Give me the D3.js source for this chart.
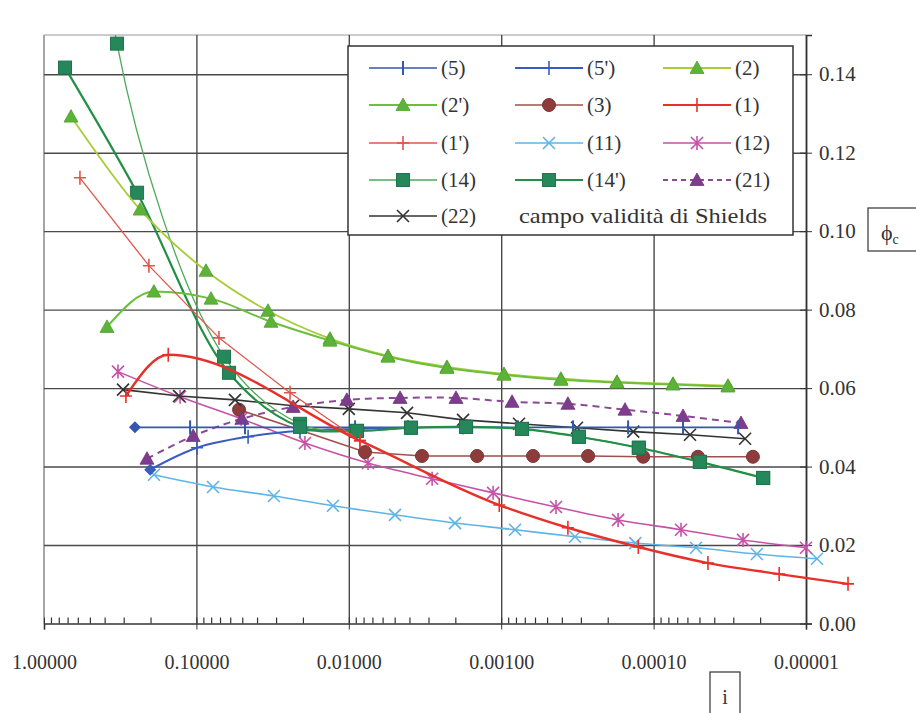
<!DOCTYPE html>
<html>
<head>
<meta charset="utf-8">
<script src="https://cdn.jsdelivr.net/npm/d3@7/dist/d3.min.js"></script>
<style>
  body { margin: 0; background: #fff; }
  svg text { font-family: "Liberation Serif", "Times New Roman", serif; fill: #333; }
</style>
</head>
<body>
<svg id="chart" width="916" height="713"></svg>
<script>
// x = slope i (log axis, reversed), y = phi_c
const xTicks = [1, 0.1, 0.01, 0.001, 0.0001, 0.00001];
const yTicks = [0, 0.02, 0.04, 0.06, 0.08, 0.10, 0.12, 0.14];

const i5 = [0.253, 0.110, 0.0480, 0.0209, 0.0091, 0.00409, 0.00178, 0.000776, 0.000338, 0.000147, 0.0000641, 0.0000279];
const phi5 = [0.050, 0.050, 0.050, 0.050, 0.050, 0.050, 0.050, 0.050, 0.050, 0.050, 0.050, 0.050];

const i5b = [0.201, 0.0991, 0.0458, 0.0209, 0.0091, 0.00409];
const phi5b = [0.0392, 0.0448, 0.0476, 0.0491, 0.0496, 0.0499];

const i2 = [0.665, 0.234, 0.0865, 0.0339, 0.0133, 0.00553, 0.00227, 0.000959, 0.000406, 0.000174, 0.0000746, 0.0000325];
const phi2 = [0.1292, 0.1055, 0.0899, 0.0797, 0.0726, 0.0682, 0.0654, 0.0636, 0.0624, 0.0616, 0.0611, 0.0606];

const i2b = [0.386, 0.190, 0.0802, 0.0324, 0.0133, 0.00553, 0.00227, 0.000959, 0.000406, 0.000174, 0.0000746, 0.0000325];
const phi2b = [0.0756, 0.0846, 0.0828, 0.0769, 0.0721, 0.0680, 0.0651, 0.0634, 0.0621, 0.0614, 0.0609, 0.0604];

const i3 = [0.0525, 0.00783, 0.00331, 0.00144, 0.000618, 0.000269, 0.000117, 0.0000512, 0.0000223];
const phi3 = [0.0545, 0.0437, 0.0427, 0.0427, 0.0427, 0.0427, 0.0425, 0.0425, 0.0425];

const i1 = [0.290, 0.153, 0.00845, 0.00103, 0.000365, 0.000126, 0.0000440, 0.0000150, 0.0000053];
const phi1 = [0.0580, 0.0685, 0.0466, 0.0302, 0.0244, 0.0195, 0.0154, 0.0126, 0.0101];

const i1b = [0.581, 0.205, 0.0711, 0.0243, 0.00845];
const phi1b = [0.1136, 0.0912, 0.0728, 0.0588, 0.0466];

const i11 = [0.190, 0.0778, 0.0310, 0.0127, 0.00498, 0.00201, 0.000811, 0.000328, 0.000132, 0.0000527, 0.0000210, 0.00000847];
const phi11 = [0.0379, 0.0348, 0.0325, 0.0300, 0.0277, 0.0256, 0.0239, 0.0221, 0.0205, 0.0193, 0.0177, 0.0165];

const i12 = [0.327, 0.128, 0.0509, 0.0194, 0.00748, 0.00284, 0.00113, 0.000437, 0.000171, 0.0000661, 0.0000259, 0.00001];
const phi12 = [0.0642, 0.0578, 0.0522, 0.0460, 0.0409, 0.0369, 0.0333, 0.0297, 0.0264, 0.0239, 0.0213, 0.0193];

const i14 = [0.430, 0.332, 0.0659, 0.0209, 0.00883, 0.00391, 0.00170, 0.000731, 0.000309, 0.000125, 0.0000497, 0.0000191];
const phi14 = [0.2356, 0.1478, 0.0680, 0.0509, 0.0491, 0.0499, 0.0501, 0.0496, 0.0476, 0.0448, 0.0412, 0.0371];

const i14b = [0.728, 0.245, 0.0611, 0.0209, 0.00883, 0.00391, 0.00170, 0.000731, 0.000309, 0.000125, 0.0000497, 0.0000191];
const phi14b = [0.1417, 0.1098, 0.0639, 0.0501, 0.0491, 0.0499, 0.0501, 0.0496, 0.0476, 0.0448, 0.0412, 0.0371];

const i21 = [0.211, 0.105, 0.0502, 0.0232, 0.0103, 0.00461, 0.00198, 0.000849, 0.000365, 0.000154, 0.0000641, 0.0000267];
const phi21 = [0.0420, 0.0478, 0.0522, 0.0552, 0.0570, 0.0575, 0.0575, 0.0565, 0.0560, 0.0545, 0.0529, 0.0511];

const i22 = [0.303, 0.130, 0.0558, 0.0232, 0.0100, 0.00415, 0.00178, 0.000764, 0.000318, 0.000136, 0.0000577, 0.0000251];
const phi22 = [0.0596, 0.0580, 0.0570, 0.0555, 0.0547, 0.0537, 0.0519, 0.0509, 0.0499, 0.0489, 0.0481, 0.0471];

// series styles (draw order = list order)
let series = [
  {name: "(11)", xs: i11, ys: phi11, color: "#5fb4e6", width: 1.6, mark: "x", curve: "smooth"},
  {name: "(12)", xs: i12, ys: phi12, color: "#c652a8", width: 1.6, mark: "star", curve: "smooth"},
  {name: "(3)", xs: i3, ys: phi3, color: "#a0504a", fill: "#8e3b3b", width: 1.6, mark: "circle", curve: "linear"},
  {name: "(22)", xs: i22, ys: phi22, color: "#333333", width: 1.6, mark: "x", curve: "linear"},
  {name: "(21)", xs: i21, ys: phi21, color: "#8a4a96", fill: "#7e3c8c", width: 2, dash: "7,5", mark: "tri", curve: "smooth"},
  {name: "(5)", xs: i5, ys: phi5, color: "#3556b0", width: 1.6, mark: "bar", first: "diamond", curve: "linear"},
  {name: "(5')", xs: i5b, ys: phi5b, color: "#3a5cc0", width: 2, mark: "plus", first: "diamond", curve: "smooth"},
  {name: "(14)", xs: i14, ys: phi14, color: "#4caa58", fill: "#25875a", width: 1.3, mark: "square", curve: "smooth"},
  {name: "(14')", xs: i14b, ys: phi14b, color: "#238f45", fill: "#25875a", width: 2.2, mark: "square", curve: "smooth"},
  {name: "(2)", xs: i2, ys: phi2, color: "#a6cc38", fill: "#5cb337", width: 1.8, mark: "tri", curve: "smooth"},
  {name: "(2')", xs: i2b, ys: phi2b, color: "#6cbf3c", fill: "#5cb337", width: 2, mark: "tri", curve: "mono"},
  {name: "(1')", xs: i1b, ys: phi1b, color: "#e0554c", width: 1.3, mark: "plus", curve: "linear"},
  {name: "(1)", xs: i1, ys: phi1, color: "#e8302a", width: 2.4, mark: "plus", curve: "mono"}
];

let legendOrder = ["(5)", "(5')", "(2)", "(2')", "(3)", "(1)", "(1')", "(11)", "(12)", "(14)", "(14')", "(21)", "(22)"];

let svg = d3.select("#chart");
let pLeft = 44, pRight = 806, pTop = 35, pBottom = 623.5;

let x = d3.scaleLog().domain([1, 0.00001]).range([pLeft, pRight]);
let y = d3.scaleLinear().domain([0, 0.15]).range([pBottom, pTop]);

// frame
svg.append("line").attr("x1", pLeft).attr("x2", pLeft).attr("y1", pTop).attr("y2", pBottom)
  .attr("stroke", "#888").attr("stroke-width", 1.5);
svg.append("line").attr("x1", pLeft).attr("x2", pRight).attr("y1", pTop).attr("y2", pTop)
  .attr("stroke", "#999").attr("stroke-width", 1.2);

// horizontal grid
svg.append("g")
  .attr("transform", "translate(" + pLeft + ",0)")
  .call(d3.axisLeft(y).tickValues(yTicks.slice(1)).tickSize(-(pRight - pLeft)).tickFormat(""))
  .call(g => g.select(".domain").remove())
  .call(g => g.selectAll(".tick line").attr("stroke", "#4a4a4a").attr("stroke-width", 1.4));

// vertical grid
svg.append("g")
  .attr("transform", "translate(0," + pBottom + ")")
  .call(d3.axisBottom(x).tickValues(xTicks.slice(1)).tickSize(-(pBottom - pTop)).tickFormat(""))
  .call(g => g.select(".domain").remove())
  .call(g => g.selectAll(".tick line").attr("stroke", "#4a4a4a").attr("stroke-width", 1.4));

// minor log ticks on the bottom axis
let minors = [];
for (let e = 0; e > -5; e--)
  for (let m = 2; m < 10; m++) minors.push(m * Math.pow(10, e - 1));
svg.append("g")
  .attr("transform", "translate(0," + pBottom + ")")
  .call(d3.axisBottom(x).tickValues(minors).tickSize(-6).tickFormat(""))
  .call(g => g.select(".domain").remove())
  .call(g => g.selectAll(".tick line").attr("stroke", "#333").attr("stroke-width", 1.2));

// bottom axis
svg.append("g")
  .attr("transform", "translate(0," + pBottom + ")")
  .call(d3.axisBottom(x).tickValues(xTicks).tickSize(6).tickPadding(25).tickFormat(d3.format(".5f")))
  .call(g => g.select(".domain").attr("stroke", "#333").attr("stroke-width", 1.6))
  .call(g => g.selectAll(".tick line").attr("stroke", "#333").attr("y1", -6))
  .call(g => g.selectAll(".tick text").attr("font-size", 20).attr("fill", "#333"));

// right axis
svg.append("g")
  .attr("transform", "translate(" + pRight + ",0)")
  .call(d3.axisRight(y).tickValues(yTicks).tickSize(6).tickPadding(7).tickFormat(d3.format(".2f")))
  .call(g => g.select(".domain").attr("stroke", "#333").attr("stroke-width", 1.6))
  .call(g => g.selectAll(".tick line").attr("stroke", "#333").attr("x1", -6))
  .call(g => g.selectAll(".tick text").attr("font-size", 21).attr("fill", "#333"));

svg.append("clipPath").attr("id", "clip")
  .append("rect").attr("x", 0).attr("y", pTop).attr("width", 916).attr("height", 700);

function drawMarker(g, type, s) {
  let col = s.color, fill = s.fill || s.color;
  if (type == "square") {
    g.append("rect").attr("x", -6.5).attr("y", -6.5).attr("width", 13).attr("height", 13)
      .attr("fill", fill).attr("stroke", d3.color(fill).darker(0.4)).attr("stroke-width", 1);
  } else if (type == "tri") {
    g.append("path").attr("d", "M0,-7L7,5.5L-7,5.5Z").attr("fill", fill)
      .attr("stroke", d3.color(fill).darker(0.3)).attr("stroke-width", 0.8);
  } else if (type == "circle") {
    g.append("circle").attr("r", 6.5).attr("fill", fill).attr("stroke", d3.color(fill).darker(0.4));
  } else if (type == "diamond") {
    g.append("path").attr("d", "M0,-6L6,0L0,6L-6,0Z").attr("fill", col);
  } else {
    let d = {
      plus: "M-6,0H6M0,-7V7",
      bar: "M0,-7V7",
      x: "M-6,-6L6,6M-6,6L6,-6",
      star: "M-6,-6L6,6M-6,6L6,-6M0,-7V7"
    }[type];
    g.append("path").attr("d", d).attr("fill", "none").attr("stroke", col)
      .attr("stroke-width", type == "bar" ? 2 : 1.6);
  }
}

let curves = {
  smooth: d3.curveCatmullRom.alpha(0.5),
  mono: d3.curveMonotoneX,
  linear: d3.curveLinear
};

let plot = svg.append("g").attr("clip-path", "url(#clip)");

series.forEach(function(s) {
  let pts = s.xs.map(function(v, k) { return [v, s.ys[k]]; });
  let line = d3.line()
    .x(function(d) { return x(d[0]); })
    .y(function(d) { return y(d[1]); })
    .curve(curves[s.curve]);
  plot.append("path")
    .attr("d", line(pts))
    .attr("fill", "none")
    .attr("stroke", s.color)
    .attr("stroke-width", s.width)
    .attr("stroke-dasharray", s.dash || null);
  pts.forEach(function(p, k) {
    let g = plot.append("g").attr("transform", "translate(" + x(p[0]) + "," + y(p[1]) + ")");
    drawMarker(g, (k == 0 && s.first) ? s.first : s.mark, s);
  });
});

// legend
let lg = svg.append("g");
lg.append("rect").attr("x", 348).attr("y", 46).attr("width", 445).attr("height", 189)
  .attr("fill", "#fff").attr("stroke", "#333").attr("stroke-width", 1.5);
let colX = [369, 515, 663];
let rowY = [68, 105, 143, 180, 216];
legendOrder.forEach(function(name, k) {
  let s = series.find(function(d) { return d.name == name; });
  let cx = colX[k % 3], cy = rowY[Math.floor(k / 3)];
  lg.append("line").attr("x1", cx).attr("x2", cx + 68).attr("y1", cy).attr("y2", cy)
    .attr("stroke", s.color).attr("stroke-width", Math.min(s.width, 2))
    .attr("stroke-dasharray", s.dash ? "5,4" : null);
  drawMarker(lg.append("g").attr("transform", "translate(" + (cx + 34) + "," + cy + ")"), s.mark, s);
  lg.append("text").attr("x", cx + 72).attr("y", cy + 7).attr("font-size", 21).text(name);
});
lg.append("text").attr("x", 519).attr("y", rowY[4] + 7).attr("font-size", 21)
  .attr("textLength", 248).attr("lengthAdjust", "spacingAndGlyphs").text("campo validità di Shields");

// axis titles in boxes
svg.append("rect").attr("x", 868).attr("y", 208).attr("width", 60).attr("height", 43)
  .attr("fill", "#fff").attr("stroke", "#333").attr("stroke-width", 1.2);
let phiT = svg.append("text").attr("x", 881).attr("y", 240).attr("font-size", 22);
phiT.append("tspan").text("\u03d5");
phiT.append("tspan").attr("font-size", 14).attr("dy", 4).text("c");

svg.append("rect").attr("x", 710).attr("y", 672).attr("width", 30).attr("height", 50)
  .attr("fill", "#fff").attr("stroke", "#333").attr("stroke-width", 1.2);
svg.append("text").attr("x", 725).attr("y", 704).attr("font-size", 20)
  .attr("text-anchor", "middle").text("i");
</script>
</body>
</html>
